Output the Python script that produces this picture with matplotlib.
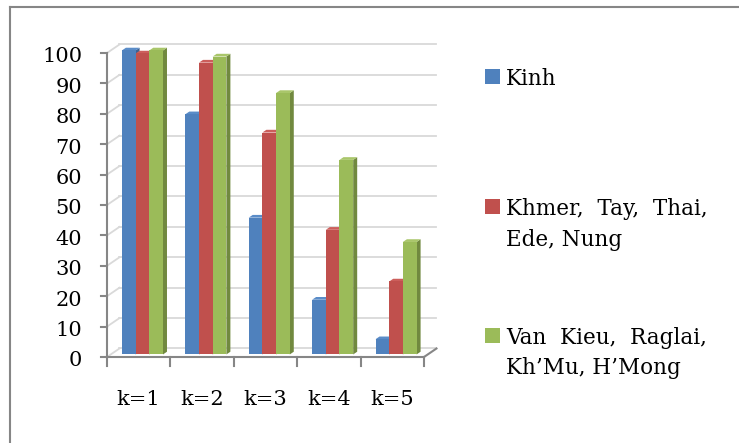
import matplotlib.pyplot as plt
from matplotlib.patches import Polygon, Rectangle
from matplotlib.lines import Line2D

categories = ["k=1", "k=2", "k=3", "k=4", "k=5"]
series_names = [["Kinh"], ["Khmer,  Tay,  Thai,", "Ede, Nung"], ["Van  Kieu,  Raglai,", "Kh’Mu, H’Mong"]]
kinh = [100, 79, 45, 18, 5]
khmer = [99, 96, 73, 41, 24]
vankieu = [100, 98, 86, 64, 37]
yticks = list(range(0, 101, 10))

front = ["#4F81BD", "#C0504D", "#9BBB59"]
side = ["#3A6194", "#94393A", "#71893F"]
top = ["#5A8CC8", "#CC5E5B", "#A9C66A"]

W, H = 739, 443
plt.rcParams["font.family"] = ["DejaVu Serif"]
fig = plt.figure(figsize=(W / 100, H / 100), dpi=100)


def fx(px):
    return px / W


def fy(py):
    return 1 - py / H


# plot area = front plane of the 3d box
ax = fig.add_axes([fx(107), fy(357), fx(424) - fx(107), fy(53) - fy(357)])
ax.set_xlim(0, 5)
ax.set_ylim(0, 100)
ax.axis("off")

# depth of the box in data units
dx, dy = 0.197, 2.8
grid_c = "#D9D9D9"
axis_c = "#868686"

for v in yticks:
    ax.plot([0, dx], [v, v + dy], color=grid_c, lw=1.3, clip_on=False)
    ax.plot([dx, 5 + dx], [v + dy, v + dy], color=grid_c, lw=1.3, clip_on=False)
    ax.plot([-0.09, 0], [v, v], color=axis_c, lw=1.5, clip_on=False)
    ax.text(-0.39, v - 0.6, str(v), ha="right", va="center_baseline", fontsize=15)

# floor
ax.plot([0, 5], [0, 0], color=axis_c, lw=1.5, clip_on=False)
ax.plot([5, 5 + dx], [0, dy], color=axis_c, lw=1.5, clip_on=False)
ax.plot([0, 0], [0, 100], color=axis_c, lw=1.5, clip_on=False)
for i in range(6):
    ax.plot([i, i], [0, -2.8], color=axis_c, lw=1.5, clip_on=False)
for i, c in enumerate(categories):
    ax.text(i + 0.5, -13.3, c, ha="center", va="center_baseline", fontsize=15)

# bars
values = [kinh, khmer, vankieu]
bw = 0.216
f0, f1 = 0.3, 0.62
for s, vals in enumerate(values):
    for i, v in enumerate(vals):
        x0 = i + 0.5 - 1.5 * bw + s * bw + f0 * dx
        y0 = f0 * dy
        ddx = (f1 - f0) * dx
        ddy = (f1 - f0) * dy
        ax.add_patch(Rectangle((x0, y0), bw, v, facecolor=front[s], edgecolor="none", clip_on=False, zorder=3))
        ax.add_patch(Polygon([(x0 + bw, y0), (x0 + bw + ddx, y0 + ddy), (x0 + bw + ddx, y0 + v + ddy), (x0 + bw, y0 + v)],
                             facecolor=side[s], edgecolor="none", clip_on=False, zorder=2))
        ax.add_patch(Polygon([(x0, y0 + v), (x0 + ddx, y0 + v + ddy), (x0 + bw + ddx, y0 + v + ddy), (x0 + bw, y0 + v)],
                             facecolor=top[s], edgecolor="none", clip_on=False, zorder=2))

# legend
leg_base = [[85], [215, 246], [344, 374]]
for s, lines in enumerate(series_names):
    b = leg_base[s][0]
    fig.add_artist(Rectangle((fx(485), fy(b - 1)), fx(15), fy(0) - fy(15), facecolor=front[s], edgecolor="none"))
    for line, base in zip(lines, leg_base[s]):
        fig.text(fx(506), fy(base), line, ha="left", va="baseline", fontsize=15.5)

# chart border (cropped)
fig.add_artist(Line2D([fx(10), 1], [fy(7), fy(7)], color=axis_c, lw=1.5))
fig.add_artist(Line2D([fx(10), fx(10)], [fy(7), 0], color=axis_c, lw=1.5))

fig.savefig("out.png", dpi=100)
